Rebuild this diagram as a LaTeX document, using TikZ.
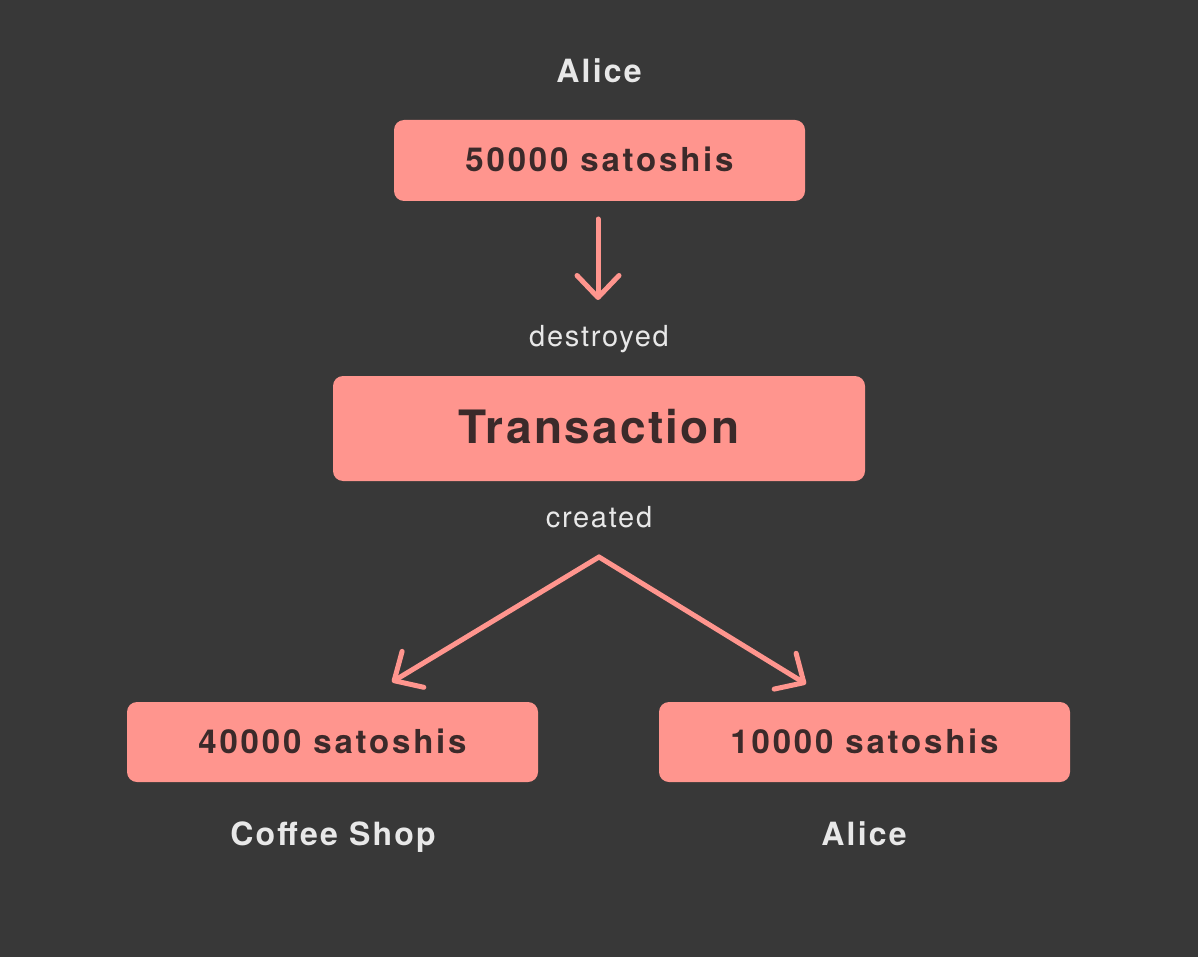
\documentclass[tikz,border=0pt]{standalone}
\usepackage{fontspec}
\setmainfont{TeX Gyre Heros}
\usetikzlibrary{arrows.meta}
\definecolor{bg}{HTML}{383838}
\definecolor{boxc}{HTML}{FF958E}
\definecolor{boxtxt}{HTML}{3B2A2A}
\definecolor{lbl}{HTML}{E8E8E8}
\begin{document}
\begin{tikzpicture}[x=1pt,y=-1pt,
  box/.style={fill=boxc,rounded corners=10pt,inner sep=0pt,text=boxtxt,text height=23pt,text depth=0pt,
    font=\fontsize{33}{38}\selectfont\bfseries\addfontfeatures{LetterSpace=8.5}},
  lab/.style={anchor=base,inner sep=0pt,text=lbl,font=\fontsize{32}{36}\selectfont\bfseries\addfontfeatures{LetterSpace=7}},
  small/.style={anchor=base,inner sep=0pt,text=lbl,font=\fontsize{29}{34}\selectfont\addfontfeatures{LetterSpace=6}},
  arr/.style={draw=boxc,line width=5pt,line cap=round,-{Straight Barb[length=22pt,width=42pt,line width=5pt,round]}}]
\fill[bg] (0,0) rectangle (1198,957);
\useasboundingbox (0,0) rectangle (1198,957);
\node[lab] (alice1) at (599,83) {Alice};
\node[box,minimum width=411pt,minimum height=81pt] (b1) at (599.5,160.5) {50000 satoshis};
\coordinate (a1s) at (598,219);
\coordinate (a1e) at (598,300);
\node[small] (destroyed) at (599,346) {destroyed};
\node[box,minimum width=532pt,minimum height=105pt,text height=29pt,font=\fontsize{46}{52}\selectfont\bfseries\addfontfeatures{LetterSpace=5}] (tx) at (599,428.5) {Transaction};
\node[small] (created) at (599,527) {created};
\coordinate (apex) at (599,557);
\coordinate (lend) at (392,682);
\coordinate (rend) at (806,684);
\node[box,minimum width=411pt,minimum height=80pt,text height=22pt] (b3) at (332.5,742) {40000 satoshis};
\node[box,minimum width=411pt,minimum height=80pt,text height=22pt] (b4) at (864.5,742) {10000 satoshis};
\node[lab] (coffee) at (333,845) {Coffee Shop};
\node[lab] (alice2) at (864,845) {Alice};
\draw[arr] (a1s) -- (a1e);
\draw[arr] (apex) -- (lend);
\draw[arr] (apex) -- (rend);
\end{tikzpicture}
\end{document}
